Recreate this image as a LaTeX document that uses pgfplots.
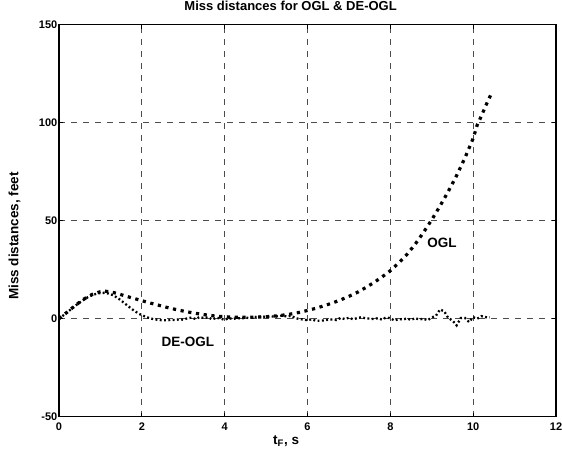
\documentclass[border=0pt]{standalone}
\usepackage{fontspec}
\setmainfont{Liberation Sans}
\usepackage{pgfplots}
\pgfplotsset{compat=1.18}

\pgfplotstableread{
t v
0.0 0
0.2 3.4
0.4 6.9
0.6 10.0
0.8 12.4
1.0 13.8
1.1 14.0
1.2 13.9
1.4 12.9
1.6 11.6
1.8 10.4
2.0 9.2
2.2 8.0
2.4 6.9
2.6 5.8
2.8 4.8
3.0 3.9
3.2 3.1
3.4 2.4
3.6 1.8
3.8 1.3
4.0 1.0
4.3 0.7
4.6 0.7
5.0 1.0
5.3 1.5
5.6 2.4
5.8 3.2
6.0 4.2
6.2 5.3
6.4 6.6
6.6 8.0
6.8 9.6
7.0 11.4
7.2 13.4
7.4 15.8
7.6 18.4
7.8 21.3
8.0 24.5
8.2 28.4
8.4 32.8
8.6 38.0
8.8 44.0
9.0 50.5
9.2 57.5
9.4 65.0
9.6 73.0
9.8 82.0
10.0 92.0
10.1 99.0
10.2 103.5
10.3 108.5
10.42 114.0
}\ogl

\pgfplotstableread{
t v
0.0 0
0.1 1.6
0.2 3.3
0.3 5.0
0.4 6.7
0.5 8.3
0.6 9.7
0.7 11.0
0.8 12.0
0.9 12.7
1.0 13.1
1.1 13.2
1.2 12.8
1.3 12.0
1.4 10.8
1.5 9.3
1.6 7.6
1.7 5.9
1.8 4.3
1.9 2.9
2.0 1.8
2.1 0.9
2.2 0.2
2.3 -0.3
2.4 -0.6
2.5 -0.8
2.6 -0.8
2.7 -0.6
2.8 -0.7
2.9 -0.3
3.0 -0.5
3.1 0.2
3.2 0.6
3.3 -0.2
3.4 0.9
3.5 0.3
3.6 0.8
3.7 -0.4
3.8 0.5
3.9 0.1
4.0 -0.6
4.1 0.3
4.2 -0.2
4.3 0.4
4.4 0.0
4.5 0.6
4.6 0.3
4.7 1.0
4.8 0.8
4.9 1.2
5.0 0.9
5.1 1.3
5.2 1.0
5.3 1.4
5.4 1.6
5.5 1.1
5.6 1.5
5.7 0.4
5.8 -0.2
5.9 -0.4
6.0 -0.8
6.1 -0.3
6.2 -1.0
6.3 -1.0
6.4 -0.9
6.5 -0.5
6.6 -0.4
6.7 -0.7
6.8 0.4
6.9 -0.2
7.0 0.5
7.1 -0.3
7.2 0.3
7.3 0.8
7.4 0.2
7.5 0.1
7.6 -0.2
7.7 0.3
7.8 -0.5
7.9 0.7
8.0 0.2
8.1 -0.9
8.2 -0.2
8.3 -0.4
8.4 0.1
8.5 -0.6
8.6 0.3
8.7 -0.4
8.8 0.0
8.9 -0.8
9.0 0.6
9.1 1.5
9.2 4.7
9.3 3.8
9.4 0.3
9.5 -0.9
9.6 -3.4
9.7 0.3
9.8 0.4
9.9 -1.7
10.0 0.8
10.1 0.0
10.2 1.3
10.3 0.8
10.4 0.6
}\deogl

\begin{document}
\begin{tikzpicture}
\path[use as bounding box] (-59pt,-44.3pt) rectangle (503pt,416.7pt);
\begin{axis}[
  scale only axis,
  width=497pt, height=392pt,
  xmin=0, xmax=12, ymin=-50, ymax=150,
  xtick={0,2,...,12}, ytick={-50,0,50,100,150},
  axis line style={line width=1.2pt},
  tick align=inside,
  major tick length=4pt,
  tick style={black, line width=0.8pt},
  grid=major,
  grid style={black!70, line width=0.8pt, dash pattern=on 6pt off 6pt},
  /pgf/number format/assume math mode=true,
  ticklabel style={font=\bfseries\fontsize{11}{13}\selectfont},
  xticklabel style={yshift=-3pt},
  yticklabel style={inner sep=1.5pt},
  title={Miss distances for OGL \& DE-OGL},
  title style={font=\bfseries\fontsize{13}{15}\selectfont, at={(axis description cs:0.466,1)}, anchor=base, yshift=8pt},
  xlabel={t\textsubscript{F}, s},
  xlabel style={font=\bfseries\fontsize{13.5}{15}\selectfont, at={(axis description cs:0.457,-0.062)}, anchor=center},
  ylabel={Miss distances, feet},
  ylabel style={font=\bfseries\fontsize{13.5}{15}\selectfont, at={(axis description cs:-0.0895,0.461)}, anchor=center},
]
\addplot[black, line width=3.2pt, line cap=butt, dash pattern=on 3.2pt off 4.6pt] table[x=t, y=v] {\ogl};
\addplot[black, line width=2.3pt, line cap=butt, dash pattern=on 1.9pt off 2.4pt] table[x=t, y=v] {\deogl};
\node[font=\bfseries\fontsize{13.5}{15}\selectfont] at (axis cs:9.25,38.9) {OGL};
\node[font=\bfseries\fontsize{13.5}{15}\selectfont] at (axis cs:3.11,-11.7) {DE-OGL};
\end{axis}
\end{tikzpicture}
\end{document}
